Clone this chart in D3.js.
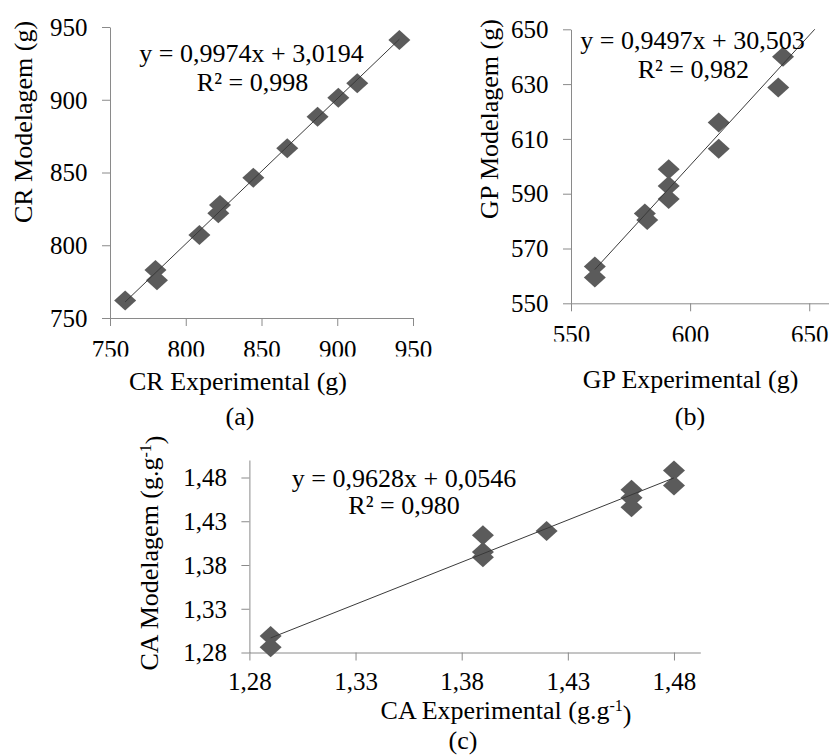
<!DOCTYPE html>
<html>
<head>
<meta charset="utf-8">
<script src="https://cdn.jsdelivr.net/npm/d3@7"></script>
<style>
  html, body { margin: 0; padding: 0; background: #fff; }
  svg { display: block; }
  svg text { font-family: "Liberation Serif", "Times New Roman", "DejaVu Serif", serif; }
</style>
</head>
<body>
<svg id="chart" width="829" height="756"></svg>
<script>
// ---------------- DATA ----------------
// (a) CR
const crExp = [760, 780, 781, 809, 821.5, 822.6, 844.6, 867, 887, 900.7, 913.2, 941];
const crMod = [762, 783, 776, 807, 822, 827.7, 846.4, 866.6, 888.4, 901.4, 911.3, 941];
const crTicks = [750, 800, 850, 900, 950];
// (b) GP
const gpExp = [560, 560, 581, 582, 591, 591, 591, 612, 612, 637, 639];
const gpMod = [563.4, 559.4, 582.8, 580.4, 598.9, 592.8, 588.1, 616, 606.4, 628.8, 640];
const gpXTicks = [550, 600, 650];
const gpYTicks = [550, 570, 590, 610, 630, 650];
// (c) CA
const caExp = [1.29, 1.29, 1.39, 1.39, 1.39, 1.42, 1.46, 1.46, 1.46, 1.48, 1.48];
const caMod = [1.299, 1.286, 1.414, 1.395, 1.389, 1.419, 1.466, 1.457, 1.446, 1.488, 1.471];
const caTicks = [1.28, 1.33, 1.38, 1.43, 1.48];
// regressions
const slopes = [0.9974, 0.9497, 0.9628];
const intercepts = [3.0194, 30.503, 0.0546];
const lineFrom = [760, 560, 1.29];
const lineTo = [941, 656, 1.48];
const eqLabels = ["y = 0,9974x + 3,0194", "y = 0,9497x + 30,503", "y = 0,9628x + 0,0546"];
const r2Labels = ["R\u00B2 = 0,998", "R\u00B2 = 0,982", "R\u00B2 = 0,980"];
const xTitles = ["CR Experimental (g)", "GP Experimental (g)", "CA Experimental (g.g"];
const yTitles = ["CR Modelagem (g)", "GP Modelagem (g)", "CA Modelagem (g.g"];
const captions = ["(a)", "(b)", "(c)"];

// ---------------- STYLE / LAYOUT ----------------
const FONT = '"Liberation Serif", "Times New Roman", "DejaVu Serif", serif';
const FS = 26;
const TFS = 25;
const AXIS = "#8a8a8a";
const MARK = "#5b5b5b";
const TREND = "#3a3a3a";

const svg = d3.select("#chart");
svg.append("rect").attr("width", 829).attr("height", 756).attr("fill", "#fff");

const comma = f => v => d3.format(f)(v).replace(".", ",");

const panels = [
  {
    xs: d3.scaleLinear().domain([750, 950]).range([110, 413]),
    ys: d3.scaleLinear().domain([750, 950]).range([318, 27]),
    xt: crTicks, yt: crTicks, fmt: comma("d"),
    xd: crExp, yd: crMod, clipH: 38.5, xLabY: 39.6,
    yTitle: [31.7, 122], xTitle: [238, 390], cap: [240, 425],
    eq: [251.5, 61.7], r2: [252.5, 90.7], sup: false
  },
  {
    xs: d3.scaleLinear().domain([550, 658.3]).range([571, 829]),
    ys: d3.scaleLinear().domain([550, 650]).range([303.3, 29.3]),
    xt: gpXTicks, yt: gpYTicks, fmt: comma("d"),
    xd: gpExp, yd: gpMod, clipH: 38.2, xLabY: 39.6,
    yTitle: [498.3, 119], xTitle: [690.5, 388.3], cap: [690, 425],
    eq: [692.5, 49.3], r2: [693.3, 77.7], sup: false
  },
  {
    xs: d3.scaleLinear().domain([1.28, 1.4924]).range([249.4, 700.3]),
    ys: d3.scaleLinear().domain([1.28, 1.50]).range([652.5, 460]),
    xt: caTicks, yt: caTicks, fmt: comma(".2f"),
    xd: caExp, yd: caMod, clipH: null, xLabY: 37,
    yTitle: [158, 553], xTitle: [506, 718.5], cap: [463, 748.5],
    eq: [404, 487], r2: [404, 514], sup: true
  }
];

const diamond = "M0,-10L11,0L0,10L-11,0Z";

panels.forEach((p, i) => {
  const g = svg.append("g");
  const x0 = p.xs.range()[0], y0 = p.ys.range()[0];

  // clip for plot area
  const cid = "plot" + i;
  svg.append("clipPath").attr("id", cid).append("rect")
    .attr("x", p.xs.range()[0]).attr("y", p.ys.range()[1])
    .attr("width", p.xs.range()[1] - p.xs.range()[0] + 20)
    .attr("height", p.ys.range()[0] - p.ys.range()[1]);

  // x axis
  const xa = g.append("g").attr("transform", `translate(0,${y0})`)
    .call(d3.axisBottom(p.xs).tickValues(p.xt).tickSize(8).tickSizeOuter(0).tickFormat(p.fmt));
  // y axis
  const ya = g.append("g").attr("transform", `translate(${x0},0)`)
    .call(d3.axisLeft(p.ys).tickValues(p.yt).tickSize(8).tickSizeOuter(0).tickFormat(p.fmt));

  [xa, ya].forEach(a => {
    a.attr("font-family", FONT);
    a.select(".domain").attr("stroke", AXIS).attr("stroke-width", 1);
    a.selectAll(".tick line").attr("stroke", AXIS).attr("stroke-width", 1);
    a.selectAll(".tick text").attr("fill", "#000")
      .style("font-family", FONT).style("font-size", TFS + "px");
  });
  xa.selectAll(".tick text").attr("dy", null).attr("y", p.xLabY);
  ya.selectAll(".tick text").attr("x", -22.5).attr("dy", "0.33em");

  if (p.clipH) {
    const lid = "lab" + i;
    svg.append("clipPath").attr("id", lid).append("rect")
      .attr("x", -100).attr("y", -30).attr("width", 1200).attr("height", p.clipH + 30);
    xa.attr("clip-path", `url(#${lid})`);
  }

  const lx = [lineFrom[i], lineTo[i]];

  // points
  g.append("g").selectAll("path").data(p.xd.map((v, k) => [v, p.yd[k]]))
    .join("path")
    .attr("d", diamond)
    .attr("transform", d => `translate(${p.xs(d[0])},${p.ys(d[1])})`)
    .attr("fill", MARK);

  // trend line (drawn on top of markers)
  g.append("line")
    .attr("clip-path", `url(#${cid})`)
    .attr("x1", p.xs(lx[0])).attr("y1", p.ys(slopes[i] * lx[0] + intercepts[i]))
    .attr("x2", p.xs(lx[1])).attr("y2", p.ys(slopes[i] * lx[1] + intercepts[i]))
    .attr("stroke", TREND).attr("stroke-width", 1);

  const txt = (xy, s) => g.append("text")
    .attr("x", xy[0]).attr("y", xy[1])
    .attr("text-anchor", "middle").attr("fill", "#000")
    .style("font-family", FONT).style("font-size", FS + "px")
    .text(s);

  txt(p.eq, eqLabels[i]);
  txt(p.r2, r2Labels[i]);
  txt(p.cap, captions[i]);

  const xt = txt(p.xTitle, xTitles[i]);
  const yt = g.append("text")
    .attr("transform", `translate(${p.yTitle[0]},${p.yTitle[1]}) rotate(-90)`)
    .attr("text-anchor", "middle").attr("fill", "#000")
    .style("font-family", FONT).style("font-size", FS + "px")
    .text(yTitles[i]);
  if (p.sup) {
    [xt, yt].forEach(t => {
      t.append("tspan").attr("dy", "-0.45em").style("font-size", "16px").text("-1");
      t.append("tspan").attr("dy", "0.45em").text(")");
    });
  }
});
</script>
</body>
</html>
